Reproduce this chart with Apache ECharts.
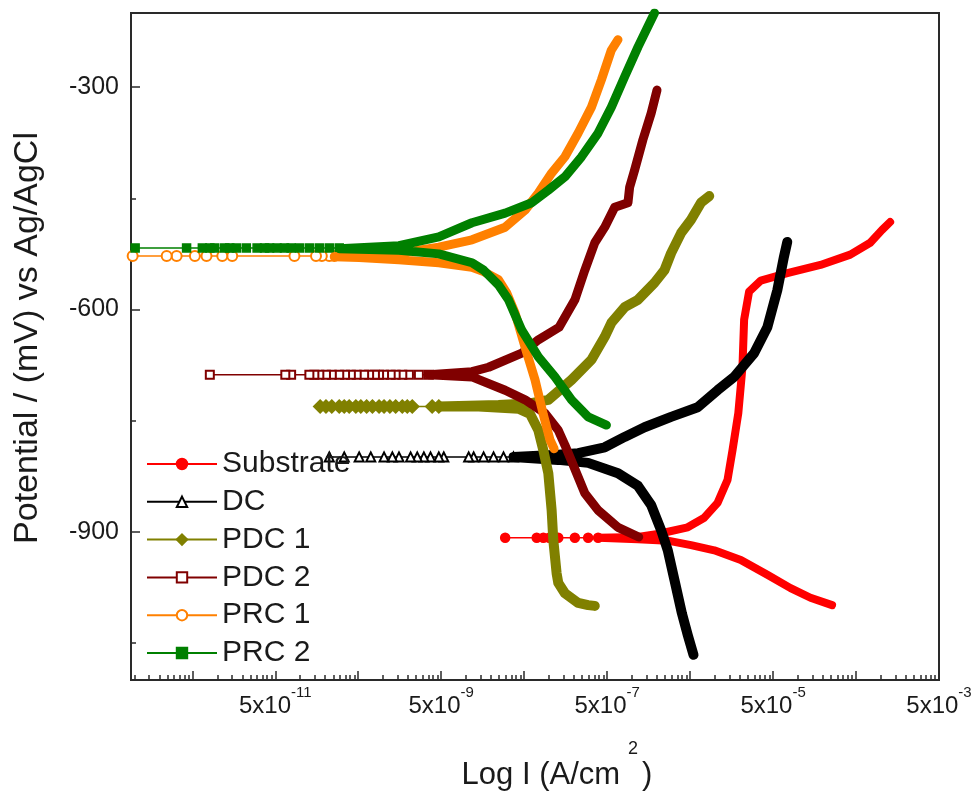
<!DOCTYPE html>
<html>
<head>
<meta charset="utf-8">
<title>Tafel</title>
<script src="https://cdn.jsdelivr.net/npm/echarts@6/dist/echarts.min.js"></script>
<style>
html,body{margin:0;padding:0;background:#fff}
#main{width:975px;height:794px}
</style>
</head>
<body>
<div id="main"></div>
<script>
//曲线名称
let names = ['Substrate', 'DC', 'PDC 1', 'PDC 2', 'PRC 1', 'PRC 2']
//颜色
let colors = ['#ff0000', '#000000', '#808000', '#800000', '#ff8000', '#008000']
//x轴刻度指数 (标签 5x10^n)
let labelExp = [-11, -9, -7, -5, -3]
//y轴刻度
let yLabels = [-900, -600, -300]
let yMinor = [-1050, -750, -450]

//数据 [log I, E(mV)]，阴极支 -> 腐蚀电位 -> 阳极支
let subBand = [[-3.59,-999],[-3.85,-989],[-4.09,-976],[-4.37,-958],[-4.69,-938],[-5.01,-925],[-5.29,-918],[-5.57,-912],[-5.93,-910],[-6.41,-908],
    [-5.93,-907],[-5.69,-903],[-5.33,-894],[-5.13,-881],[-4.97,-861],[-4.85,-830],[-4.79,-790],[-4.72,-740],[-4.67,-678],[-4.65,-614],
    [-4.59,-576],[-4.45,-561],[-4.13,-551],[-3.73,-540],[-3.37,-526],[-3.13,-510],[-2.99,-493],[-2.89,-482]]
let subTail = [[-6.41,-908],[-6.53,-908],[-6.69,-908],[-6.89,-908],[-7.00,-908],[-7.07,-908],[-7.15,-908],[-7.53,-908]]

let dcBand = [[-5.26,-1066],[-5.33,-1039],[-5.40,-1010],[-5.49,-965],[-5.57,-925],[-5.65,-898],[-5.77,-864],[-5.93,-838],[-6.17,-821],[-6.53,-807],[-6.89,-803],[-7.43,-799],
    [-6.89,-796],[-6.65,-794],[-6.33,-786],[-6.09,-772],[-5.85,-759],[-5.53,-745],[-5.21,-732],[-4.97,-709],[-4.77,-691],[-4.53,-659],[-4.37,-624],[-4.25,-574],[-4.17,-529],[-4.13,-509]]
let dcTail = [[-7.43,-799],[-7.55,-799],[-7.67,-799],[-7.79,-799],[-7.91,-799],[-7.97,-799],[-8.27,-799],[-8.33,-799],[-8.43,-799],[-8.51,-799],[-8.59,-799],[-8.67,-799],
    [-8.81,-799],[-8.89,-799],[-8.99,-799],[-9.15,-799],[-9.29,-799],[-9.47,-799],[-9.65,-799]]

let pdc1Band = [[-6.45,-1000],[-6.53,-999],[-6.65,-996],[-6.81,-983],[-6.89,-969],[-6.91,-956],[-6.95,-911],[-6.97,-871],[-7.01,-821],[-7.07,-790],[-7.13,-763],[-7.23,-741],[-7.37,-734],[-7.85,-731],[-8.33,-731],
    [-7.61,-729],[-7.25,-727],[-7.01,-722],[-6.73,-695],[-6.49,-668],[-6.33,-637],[-6.25,-618],[-6.09,-597],[-5.93,-587],[-5.73,-564],[-5.61,-547],[-5.53,-524],[-5.41,-497],[-5.29,-479],[-5.17,-456],[-5.07,-447]]
let pdc1Tail = [[-8.33,-731],[-8.41,-731],[-8.65,-731],[-8.71,-731],[-8.77,-731],[-8.85,-731],[-8.92,-731],[-8.99,-731],[-9.05,-731],[-9.13,-731],[-9.20,-731],[-9.27,-731],
    [-9.33,-731],[-9.41,-731],[-9.47,-731],[-9.53,-731],[-9.62,-731],[-9.69,-731],[-9.76,-731]]

let pdc2Band = [[-5.92,-907],[-6.17,-894],[-6.41,-871],[-6.57,-848],[-6.71,-810],[-6.81,-783],[-6.89,-763],[-7.05,-740],[-7.29,-722],[-7.53,-709],[-7.93,-691],[-8.45,-688],
    [-7.93,-684],[-7.73,-678],[-7.33,-659],[-7.13,-641],[-6.88,-624],[-6.69,-587],[-6.57,-547],[-6.45,-510],[-6.33,-489],[-6.21,-462],[-6.05,-456],[-6.03,-435],[-5.97,-412],[-5.87,-371],[-5.77,-335],[-5.70,-304]]
let pdc2Tail = [[-8.45,-688],[-8.57,-688],[-8.69,-688],[-8.77,-688],[-8.85,-688],[-8.91,-688],[-8.99,-688],[-9.05,-688],[-9.10,-688],[-9.17,-688],[-9.23,-688],[-9.32,-688],
    [-9.39,-688],[-9.46,-688],[-9.53,-688],[-9.62,-688],[-9.69,-688],[-9.77,-688],[-9.83,-688],[-9.89,-688],[-10.11,-688],[-10.18,-688],[-11.09,-688]]

let prc1Band = [[-6.94,-788],[-6.99,-776],[-7.07,-742],[-7.17,-695],[-7.29,-651],[-7.41,-605],[-7.51,-578],[-7.61,-560],[-7.79,-549],[-7.93,-543],[-8.33,-537],[-8.81,-533],[-9.29,-530],[-9.59,-529],
    [-9.29,-526],[-8.81,-524],[-8.33,-516],[-7.93,-506],[-7.53,-489],[-7.29,-466],[-7.13,-443],[-6.97,-416],[-6.81,-394],[-6.65,-362],[-6.49,-327],[-6.37,-290],[-6.25,-250],[-6.17,-236]]
let prc1Tail = [[-9.59,-528],[-9.65,-528],[-9.74,-528],[-9.81,-528],[-10.07,-528],[-10.82,-528],[-10.94,-528],[-11.13,-528],[-11.27,-528],[-11.49,-528],[-11.61,-528],[-12.02,-528]]

let prc2Band = [[-6.31,-756],[-6.53,-745],[-6.73,-722],[-6.93,-691],[-7.13,-664],[-7.33,-628],[-7.49,-587],[-7.61,-567],[-7.79,-547],[-7.93,-537],[-8.33,-525],[-8.81,-520],[-9.53,-518],
    [-8.81,-514],[-8.33,-502],[-7.93,-483],[-7.53,-470],[-7.21,-456],[-7.01,-439],[-6.81,-421],[-6.61,-394],[-6.41,-362],[-6.25,-327],[-6.09,-286],[-5.93,-246],[-5.77,-209],[-5.73,-200]]
let prc2Tail = [[-9.53,-517],[-9.65,-517],[-9.77,-517],[-9.89,-517],[-10.01,-517],[-10.11,-517],[-10.19,-517],[-10.28,-517],[-10.37,-517],[-10.43,-517],[-10.52,-517],
    [-10.65,-517],[-10.77,-517],[-10.85,-517],[-10.91,-517],[-11.03,-517],[-11.09,-517],[-11.18,-517],[-11.37,-517],[-11.99,-517]]

let bands = [subBand, dcBand, pdc1Band, pdc2Band, prc1Band, prc2Band]
let tails = [subTail, dcTail, pdc1Tail, pdc2Tail, prc1Tail, prc2Tail]
let symbols = ['circle', 'emptyTriangle', 'diamond', 'emptyRect', 'emptyCircle', 'rect']
let symbolSizes = [9, 9, 13, 8, 10, 8]
let bandWidths = [8, 10, 10, 9, 9, 9]

let font = '"Liberation Sans", Arial, sans-serif'
let textColor = '#1a1a1a'
let log5 = Math.log10(5)

//x轴刻度位置
let xMin = -12.04
let xMax = log5 - 3
let xLabelPos = labelExp.map(e => log5 + e)
let xMajor = []
let xMinorPos = []
for (let n = -13; n <= -3; n++) {
    let base = log5 + n
    if (base >= xMin && base <= xMax + 1e-9) xMajor.push(base)
    for (let k = 2; k <= 9; k++) {
        let v = base + Math.log10(k)
        if (v > xMin && v < xMax) xMinorPos.push(v)
    }
}

let series = []
//稀疏点 (图例用)
tails.forEach((d, i) => {
    series.push({
        name: names[i],
        type: 'line',
        data: d,
        symbol: symbols[i],
        symbolSize: symbolSizes[i],
        showSymbol: true,
        clip: true,
        color: colors[i],
        itemStyle: {color: colors[i], borderColor: colors[i], borderWidth: 1.5},
        lineStyle: {color: colors[i], width: 1.5},
        z: 2
    })
})
//密集数据带
bands.forEach((d, i) => {
    series.push({
        name: names[i],
        type: 'line',
        data: d,
        showSymbol: false,
        symbol: 'none',
        clip: true,
        lineStyle: {color: colors[i], width: bandWidths[i], cap: 'round', join: 'round'},
        z: 3 + i
    })
})

let axisLineStyle = {color: '#2a2a2a', width: 2}

let option = {
    animation: false,
    backgroundColor: '#fff',
    grid: {left: 131, right: 36, top: 13, bottom: 114, show: true, borderColor: '#2a2a2a', borderWidth: 2, outerBoundsMode: 'none'},
    legend: {
        data: names,
        orient: 'vertical',
        left: 146,
        top: 449,
        padding: 0,
        itemWidth: 70,
        itemHeight: 13,
        itemGap: 7.8,
        textStyle: {fontSize: 30, lineHeight: 30, color: textColor, fontFamily: font}
    },
    xAxis: [
        {
            type: 'value',
            position: 'bottom',
            min: xMin,
            max: xMax,
            splitLine: {show: false},
            axisLine: {lineStyle: axisLineStyle},
            axisTick: {inside: true, length: 9, customValues: xMajor, lineStyle: {color: '#2a2a2a', width: 1.5}},
            axisLabel: {
                customValues: xLabelPos,
                margin: 14,
                formatter: v => '{a|5x10}{s|' + Math.round(v - log5) + '}',
                rich: {
                    a: {fontSize: 24, lineHeight: 24, fontFamily: font, color: textColor, verticalAlign: 'bottom'},
                    s: {fontSize: 15, lineHeight: 15, fontFamily: font, color: textColor, verticalAlign: 'bottom', padding: [0, 0, 18, 0]}
                }
            },
            name: '{a|Log I (A/cm}{b|2}{a|)}',
            nameLocation: 'middle',
            nameGap: 77,
            nameTextStyle: {
                padding: [0, 0, 0, 44],
                rich: {
                    a: {fontSize: 31, lineHeight: 34, fontFamily: font, color: textColor, verticalAlign: 'bottom'},
                    b: {fontSize: 18, lineHeight: 18, fontFamily: font, color: textColor, verticalAlign: 'bottom', padding: [0, 4, 33, 8]}
                }
            }
        },
        {
            type: 'value',
            position: 'bottom',
            min: xMin,
            max: xMax,
            splitLine: {show: false},
            axisLine: {show: false},
            axisLabel: {show: false},
            axisTick: {inside: true, length: 5, customValues: xMinorPos, lineStyle: {color: '#2a2a2a', width: 1.5}}
        }
    ],
    yAxis: [
        {
            type: 'value',
            position: 'left',
            min: -1100,
            max: -200,
            splitLine: {show: false},
            axisLine: {lineStyle: axisLineStyle},
            axisTick: {inside: true, length: 9, customValues: yLabels, lineStyle: {color: '#2a2a2a', width: 1.5}},
            axisLabel: {customValues: yLabels, margin: 12, fontSize: 25, fontFamily: font, color: textColor},
            name: 'Potential / (mV) vs Ag/AgCl',
            nameLocation: 'middle',
            nameGap: 86,
            nameTextStyle: {fontSize: 34, fontFamily: font, color: textColor, padding: [0, 0, 0, 17]}
        },
        {
            type: 'value',
            position: 'left',
            min: -1100,
            max: -200,
            splitLine: {show: false},
            axisLine: {show: false},
            axisLabel: {show: false},
            axisTick: {inside: true, length: 5, customValues: yMinor, lineStyle: {color: '#2a2a2a', width: 1.5}}
        }
    ],
    series: series
}

let myChart = echarts.init(document.getElementById('main'))
myChart.setOption(option)
</script>
</body>
</html>
